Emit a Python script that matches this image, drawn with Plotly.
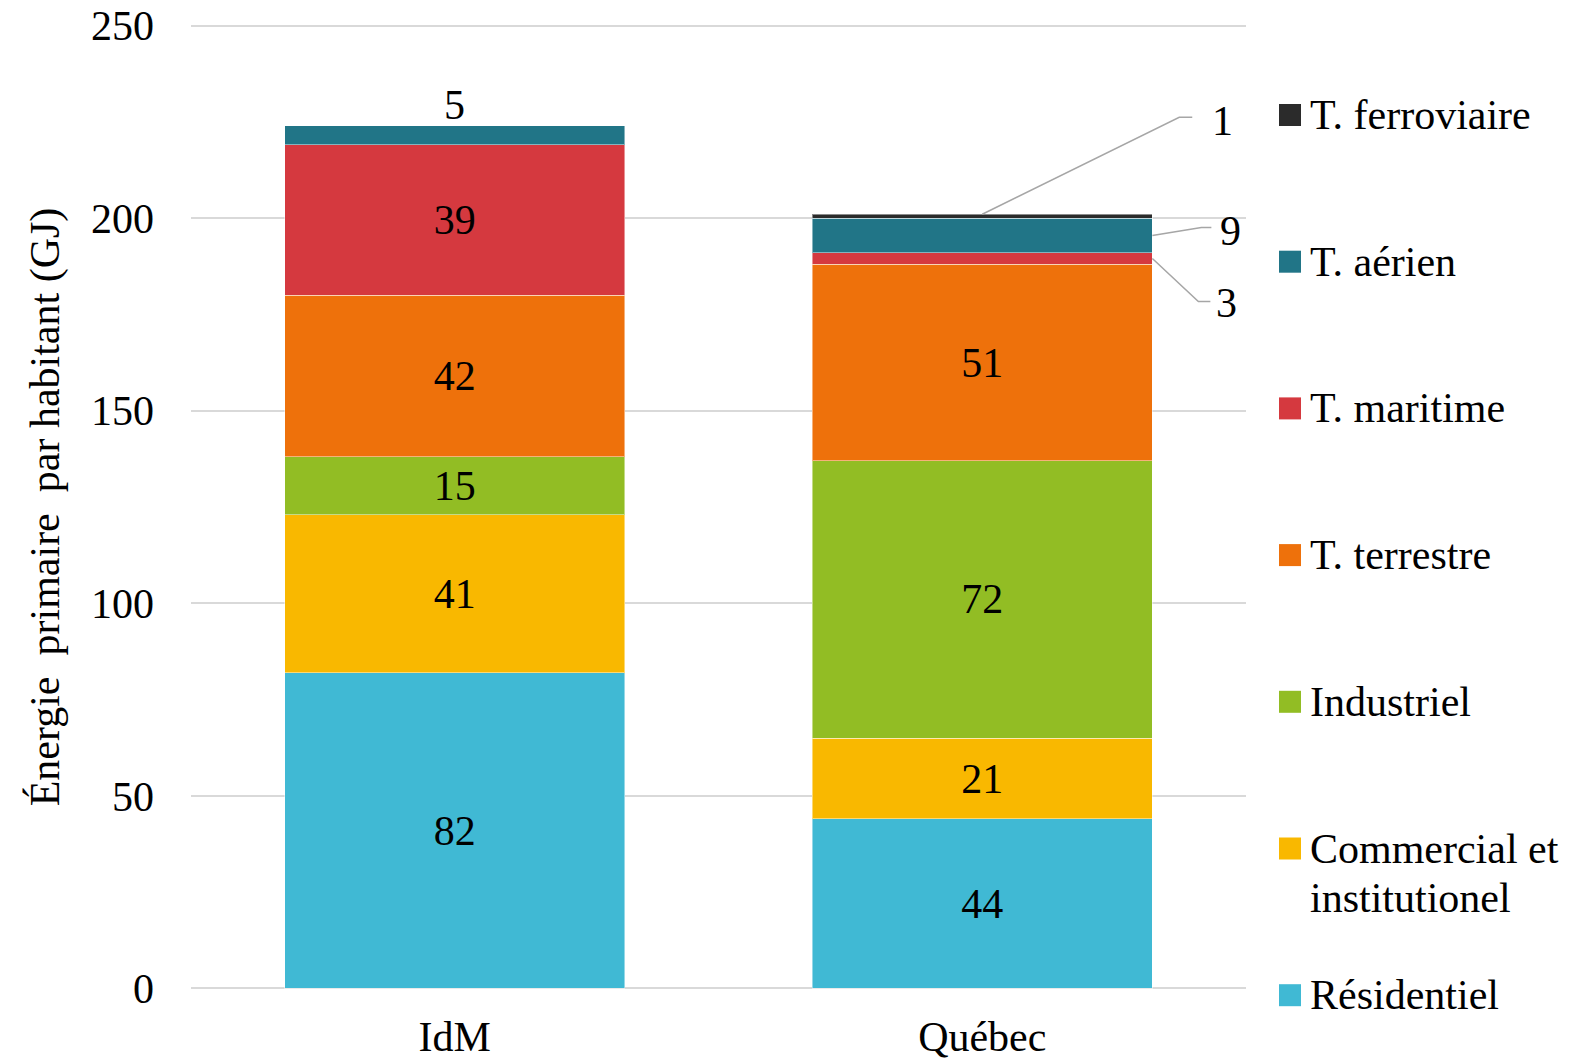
import plotly.graph_objects as go

# Primary energy per inhabitant (GJ), by sector
regions = ["IdM", "Québec"]
residentiel = [82, 44]
commercial = [41, 21]
industriel = [15, 72]
terrestre = [42, 51]
maritime = [39, 3]
aerien = [5, 9]
ferroviaire = [0, 1]

sectors = ["Résidentiel", "Commercial et<br>institutionel", "Industriel",
           "T. terrestre", "T. maritime", "T. aérien", "T. ferroviaire"]
series = [residentiel, commercial, industriel, terrestre, maritime, aerien, ferroviaire]
colors = ["#40B9D4", "#F9B800", "#92BD24", "#EE710B", "#D5393F", "#217587", "#2B2B2B"]

y_ticks = [0, 50, 100, 150, 200, 250]

FONT = "Liberation Serif"
FS = 42
BAR_W = 0.645
x_pos = list(range(len(regions)))

fig = go.Figure()

# stacked bars, large segments labelled in the middle
for name, vals, col in zip(sectors, series, colors):
    fig.add_trace(go.Bar(
        x=x_pos, y=vals, name=name.replace("<br>", " "), width=BAR_W,
        marker=dict(color=col, line=dict(color="rgba(255,255,255,0.45)", width=1)),
        text=[str(v) if v >= 10 else "" for v in vals],
        textposition="inside", insidetextanchor="middle", textangle=0,
        constraintext="none",
        textfont=dict(family=FONT, size=FS, color="black"),
        showlegend=False, hoverinfo="skip",
    ))

# cumulative tops / mid-points of each segment
tops, mids = [], []
run = [0] * len(regions)
for vals in series:
    mids.append([r + v / 2 for r, v in zip(run, vals)])
    run = [r + v for r, v in zip(run, vals)]
    tops.append(list(run))

annotations = []
shapes = []

# small segments: label placed outside, with leader lines for Québec
# (series index, region index, anchor on bar side, leader path in px, label offset in px)
callouts = [
    (5, 0, "top", None, (0, 21)),
    (6, 1, "top", "M0,0 L197,97 L210,97", (240, 93)),
    (5, 1, "side", "M0,0 L49,8 L59,8", (78, 4)),
    (4, 1, "side", "M0,0 L46,-43 L58,-43", (74, -44)),
]
for si, ri, where, path, (dx, dy) in callouts:
    if where == "top":
        ax, ay = x_pos[ri], tops[si][ri]
    else:
        ax, ay = x_pos[ri] + BAR_W / 2, mids[si][ri]
    if path:
        shapes.append(dict(type="path", xref="x", yref="y",
                           xsizemode="pixel", ysizemode="pixel",
                           xanchor=ax, yanchor=ay, path=path,
                           line=dict(color="#A6A6A6", width=1.5)))
    annotations.append(dict(x=ax, y=ay, xref="x", yref="y", text=str(series[si][ri]),
                            showarrow=False, xanchor="center", yanchor="middle",
                            xshift=dx, yshift=dy,
                            font=dict(family=FONT, size=FS, color="black")))

# plot area in pixels
M_T, M_B, M_L, M_R = 24, 72, 191, 345
W, H = 1591, 1062
PLOT_TOP, PLOT_BOT = M_T, H - M_B
PLOT_W = W - M_L - M_R

# legend, top item first; wrapped names continue on following lines
LINE_H = 49
for k, i in enumerate(reversed(range(len(sectors)))):
    cy = 115 + k * 146.7
    py = (PLOT_BOT - cy) / (PLOT_BOT - PLOT_TOP)
    shapes.append(dict(type="rect", xref="paper", yref="paper",
                       xsizemode="pixel", ysizemode="pixel",
                       xanchor=(1290 - M_L) / PLOT_W, yanchor=py,
                       x0=-11, x1=11, y0=-11, y1=11,
                       fillcolor=colors[i], line=dict(width=0)))
    for j, line in enumerate(sectors[i].split("<br>")):
        annotations.append(dict(x=(1308 - M_L) / PLOT_W, y=py, xref="paper", yref="paper",
                                text=line, showarrow=False, align="left",
                                xanchor="left", yanchor="middle", yshift=-j * LINE_H,
                                font=dict(family=FONT, size=FS, color="black")))

fig.update_layout(
    width=W, height=H,
    margin=dict(l=M_L, r=M_R, t=M_T, b=M_B),
    barmode="stack",
    paper_bgcolor="white", plot_bgcolor="white",
    font=dict(family=FONT, size=FS, color="black"),
    showlegend=False,
    shapes=shapes,
    annotations=annotations,
    xaxis=dict(range=[-0.5, 1.5], tickvals=x_pos, ticktext=regions,
               showgrid=False, zeroline=False, showline=False, automargin=False,
               ticks="", ticklabelstandoff=18),
    yaxis=dict(range=[-0.4, 250.4], tickvals=y_ticks, showgrid=True,
               gridcolor="#D9D9D9", gridwidth=1.5, zeroline=False, automargin=False,
               showline=False, ticks="", ticklabelstandoff=36,
               title=dict(text="Énergie\u00a0 primaire\u00a0 par habitant (GJ)",
                          standoff=18, font=dict(family=FONT, size=42))),
)

fig.write_html("out.html")
